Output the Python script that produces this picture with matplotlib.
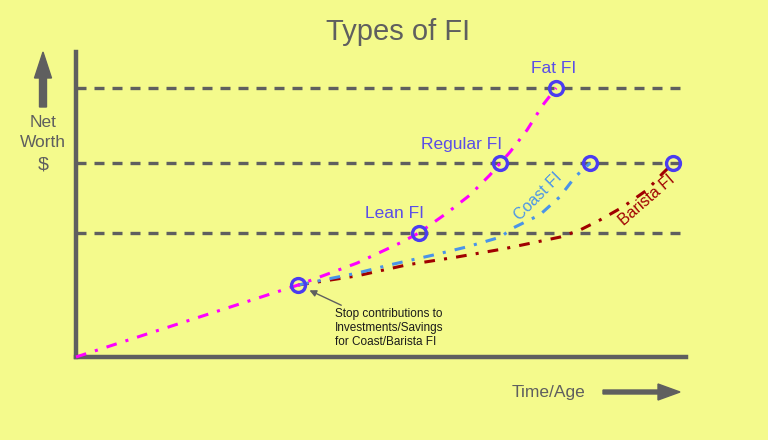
import matplotlib
matplotlib.use("Agg")
import matplotlib.pyplot as plt

plt.rcParams["font.family"] = ["Liberation Sans", "DejaVu Sans"]

# ---- data (time/age on x, net worth on y; arbitrary units 0-100) ----
fi_levels = {"Lean FI": 40.7, "Regular FI": 63.6, "Fat FI": 88.2}

main_x = [0.0, 36.6, 46.3, 53.4, 56.5, 61.1, 64.9, 68.2, 69.9, 71.5, 74.3, 76.9, 79.1]
main_y = [0.0, 23.6, 30.8, 37.4, 40.7, 47.2, 53.1, 59.7, 63.6, 67.2, 74.4, 82.6, 88.2]

coast_x = [36.6, 46.3, 51.7, 58.8, 64.4, 69.9, 72.0, 76.4, 79.7, 82.2, 84.7]
coast_y = [23.6, 27.5, 30.2, 33.4, 36.1, 39.3, 42.3, 46.6, 52.5, 59.0, 63.6]

barista_x = [36.6, 46.3, 54.5, 62.8, 70.3, 79.7, 83.0, 86.3, 90.1, 94.1, 96.7, 98.4]
barista_y = [23.6, 26.6, 30.2, 32.8, 35.4, 39.3, 41.6, 44.9, 49.2, 54.8, 60.3, 63.6]

milestone_names = ["Stop", "Lean FI", "Regular FI", "Fat FI", "Coast FI", "Barista FI"]
milestone_x = [36.6, 56.5, 69.9, 79.1, 84.7, 98.4]
milestone_y = [23.6, 40.7, 63.6, 88.2, 63.6, 63.6]

# ---- style ----
BG = "#f4fa8c"
GREY = "#5f5f5f"
MAG = "#ff00ff"
BLUE = "#4a94e8"
RED = "#a00000"
VIOLET = "#4b3cf0"
LABEL = "#5a4de8"

fig = plt.figure(figsize=(7.68, 4.40), dpi=100, facecolor=BG)
W, H = 768, 440
ax = fig.add_axes([76 / W, (H - 357) / H, 607 / W, 305 / H])
ax.set_facecolor(BG)
ax.set_xlim(0, 100)
ax.set_ylim(0, 100)
for s in ["top", "right"]:
    ax.spines[s].set_visible(False)
for s in ["left", "bottom"]:
    ax.spines[s].set_color(GREY)
    ax.spines[s].set_linewidth(3.2)
ax.spines["bottom"].set_bounds(0, 100.5)
ax.set_xticks([])
ax.set_yticks([])

# FI level dashed lines
for name, lvl in fi_levels.items():
    ax.plot([0, 100], [lvl, lvl], color=GREY, lw=2.4,
            linestyle=(0, (3, 2.4)), zorder=1, clip_on=False, solid_capstyle="butt")

dd = (0, (3.5, 3, 1, 3))
ax.plot(barista_x, barista_y, color=RED, lw=2.2, linestyle=dd, zorder=3, clip_on=False)
ax.plot(coast_x, coast_y, color=BLUE, lw=2.2, linestyle=dd, zorder=3, clip_on=False)
ax.plot(main_x, main_y, color=MAG, lw=2.2, linestyle=dd, zorder=3, clip_on=False)

ax.plot(milestone_x, milestone_y, linestyle="none", marker="o", markersize=10,
        markerfacecolor="none", markeredgecolor=VIOLET, markeredgewidth=2.4,
        zorder=4, clip_on=False)

# milestone labels
ax.annotate("Lean FI", (milestone_x[1], milestone_y[1]), xytext=(-24, 19),
            textcoords="offset pixels", ha="center", va="center",
            color=LABEL, fontsize=12.5)
ax.annotate("Regular FI", (milestone_x[2], milestone_y[2]), xytext=(-39, 19),
            textcoords="offset pixels", ha="center", va="center",
            color=LABEL, fontsize=12.5)
ax.annotate("Fat FI", (milestone_x[3], milestone_y[3]), xytext=(-3, 19),
            textcoords="offset pixels", ha="center", va="center",
            color=LABEL, fontsize=12.5)
ax.text(76.1, 52.5, "Coast FI", ha="center", va="center",
        color=BLUE, fontsize=11.5, rotation=45, rotation_mode="anchor")
ax.text(94.0, 51.5, "Barista FI", ha="center", va="center",
        color=RED, fontsize=11.5, rotation=41, rotation_mode="anchor")

ax.annotate("Stop contributions to\nInvestments/Savings\nfor Coast/Barista FI",
            xy=(milestone_x[0], milestone_y[0]), xytext=(37, -23),
            textcoords="offset pixels", ha="left", va="top",
            color="#1a1a1a", fontsize=8.5, linespacing=1.2,
            arrowprops=dict(arrowstyle="-|>", color=GREY, lw=1.0,
                            shrinkA=0, shrinkB=9, mutation_scale=10))

# figure-level text
fig.text(43 / W, 1 - 122 / H, "Net", ha="center", va="center",
         color=GREY, fontsize=12.5)
fig.text(43 / W, 1 - 142 / H, "Worth", ha="center", va="center",
         color=GREY, fontsize=12.5)
fig.text(43 / W, 1 - 165 / H, "$", ha="center", va="center",
         color=GREY, fontsize=14)
fig.text(398 / W, 1 - 32 / H, "Types of FI", ha="center", va="center",
         color=GREY, fontsize=21)
fig.text(549 / W, 1 - 392 / H, "Time/Age", ha="center", va="center",
         color=GREY, fontsize=12.5)

fig.patches.append(matplotlib.patches.FancyArrow(
    43 / W, 1 - 107 / H, 0, (107 - 52) / H, width=4 / H, head_width=17 / W,
    head_length=26 / H, length_includes_head=True, color=GREY,
    transform=fig.transFigure, figure=fig))
fig.patches.append(matplotlib.patches.FancyArrow(
    603 / W, 1 - 392 / H, (680 - 603) / W, 0, width=4 / H, head_width=16 / H,
    head_length=22 / W, length_includes_head=True, color=GREY,
    transform=fig.transFigure, figure=fig))

fig.savefig("out.png", dpi=100, facecolor=BG)
